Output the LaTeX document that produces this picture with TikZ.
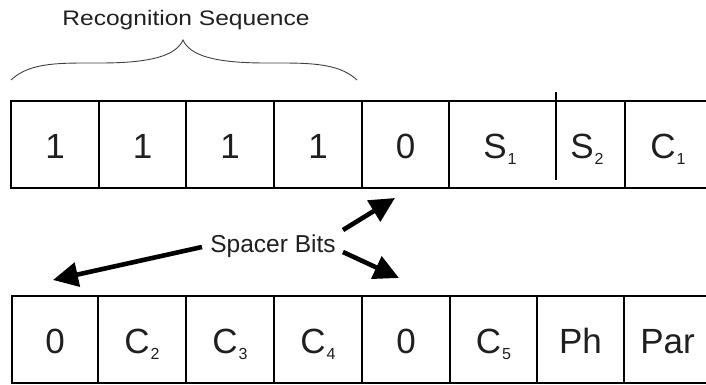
\documentclass[tikz,border=0pt]{standalone}
\usepackage{fontspec}
\setmainfont{Liberation Sans}
\usetikzlibrary{arrows.meta}
\newcommand{\sbs}[2]{#1\kern1pt\raisebox{-6pt}{\fontsize{16}{16}\selectfont #2}}
\tikzset{
  cell/.style={draw=black, line width=2.6pt, inner sep=0pt, minimum height=87pt,
    text height=28pt, text depth=0pt, font=\fontsize{35}{38}\selectfont, text=black!88},
  celltext/.style={inner sep=0pt, text height=28pt, text depth=0pt,
    font=\fontsize{35}{38}\selectfont, text=black!88},
  label/.style={inner sep=0pt, text=black!88, anchor=base},
  bigarrow/.style={line width=4.6pt, -{Triangle[length=25pt,width=24pt]}},
  brace/.style={draw=black!75, line width=0.9pt}
}
\begin{document}
\begin{tikzpicture}[x=1pt,y=-1pt]
\useasboundingbox (0,0) rectangle (706,385);
\clip (0,0) rectangle (706,385);
% top row
\node[cell, minimum width=88pt] (t1) at (55,144.5) {1};
\node[cell, minimum width=87pt] (t2) at (142.5,144.5) {1};
\node[cell, minimum width=88pt] (t3) at (230,144.5) {1};
\node[cell, minimum width=88pt] (t4) at (318,144.5) {1};
\node[cell, minimum width=87pt] (t5) at (405.5,144.5) {0};
\node[cell, minimum width=176pt] (t67) at (537,144.5) {};
\node[celltext] (t6) at (500,144.5) {\sbs{S}{1}};
\node[celltext] (t7) at (587,144.5) {\sbs{S}{2}};
\node[cell, minimum width=86pt] (t8) at (668,144.5) {\sbs{C}{1}};
\coordinate (dtop) at (556,92);
\coordinate (dbot) at (556,180);
\draw[line width=2.6pt] (dtop) -- (dbot);
% bottom row
\node[cell, minimum width=86pt] (b1) at (55,339.5) {0};
\node[cell, minimum width=88pt] (b2) at (142,339.5) {\sbs{C}{2}};
\node[cell, minimum width=88pt] (b3) at (230,339.5) {\sbs{C}{3}};
\node[cell, minimum width=88pt] (b4) at (318,339.5) {\sbs{C}{4}};
\node[cell, minimum width=88pt] (b5) at (406,339.5) {0};
\node[cell, minimum width=87pt] (b6) at (493.5,339.5) {\sbs{C}{5}};
\node[cell, minimum width=87pt] (b7) at (580.5,339.5) {Ph};
\node[cell, minimum width=87pt] (b8) at (667.5,339.5) {Par};
% brace and title
\node[label, font=\fontsize{21}{25}\selectfont] (title) at (186,26) {\scalebox{1.17}[1]{Recognition Sequence}};
\coordinate (bl) at (11,80);
\coordinate (bt) at (183,40);
\coordinate (br) at (357,80);
\draw[brace] (bl) .. controls (30,62) and (60,63) .. (100,63) .. controls (150,63) and (176,56) .. (bt)
  .. controls (190,56) and (216,63) .. (266,63) .. controls (306,63) and (338,62) .. (br);
% spacer bits
\node[label, font=\fontsize{24.5}{28}\selectfont] (spacer) at (273,252) {Spacer Bits};
\coordinate (s1) at (343,230);
\coordinate (s2) at (343,252);
\coordinate (s3) at (202,247);
\coordinate (e1) at (395,198);
\coordinate (e2) at (399,278);
\coordinate (e3) at (53,280);
\draw[bigarrow] (s1) -- (e1);
\draw[bigarrow] (s2) -- (e2);
\draw[bigarrow] (s3) -- (e3);
\end{tikzpicture}
\end{document}
